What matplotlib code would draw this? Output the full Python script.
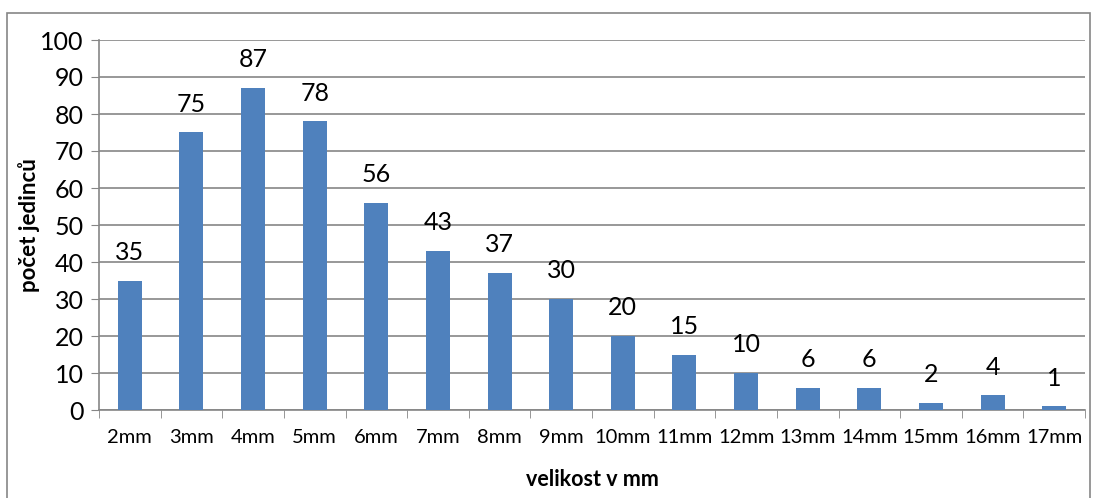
import matplotlib
matplotlib.use("Agg")
import matplotlib.pyplot as plt
from matplotlib.patches import Rectangle
import numpy as np

plt.rcParams['font.family'] = ['Lato', 'DejaVu Sans']

categories = ['2mm', '3mm', '4mm', '5mm', '6mm', '7mm', '8mm', '9mm',
              '10mm', '11mm', '12mm', '13mm', '14mm', '15mm', '16mm', '17mm']
counts = [35, 75, 87, 78, 56, 43, 37, 30, 20, 15, 10, 6, 6, 2, 4, 1]

fig = plt.figure(figsize=(10.96, 4.98), dpi=100)
ax = fig.add_axes([99/1096, 1 - 410/498, (1085-99)/1096, 370/498])

x = np.arange(len(categories))
ax.bar(x, counts, width=0.39, color='#4F81BD', zorder=3)
for xi, v in zip(x, counts):
    ax.annotate(str(v), (xi, v), xytext=(0, 12), textcoords='offset points',
                ha='center', va='bottom', fontsize=18, zorder=4)

ax.set_xlim(-0.5, len(categories) - 0.5)
ax.set_ylim(0, 100)
ax.set_yticks(range(0, 101, 10))
ax.tick_params(axis='y', labelsize=18, length=6, color='#868686', pad=5)
ax.yaxis.grid(True, color='#868686', linewidth=1.2, zorder=0)

ax.set_xticks(x)
ax.set_xticklabels(categories)
ax.tick_params(axis='x', length=0, labelsize=14.5, pad=14)
ax.set_xticks(np.arange(-0.5, len(categories)), minor=True)
ax.tick_params(axis='x', which='minor', length=6, color='#868686')

for s in ['top', 'right']:
    ax.spines[s].set_visible(False)
for s in ['left', 'bottom']:
    ax.spines[s].set_color('#868686')
    ax.spines[s].set_linewidth(1.2)

ax.set_ylabel('počet jedinců', fontsize=16, fontweight='bold', labelpad=0)
ax.set_xlabel('velikost v mm', fontsize=15.5, fontweight='bold', labelpad=16)

fig.patches.append(Rectangle((7/1096, -0.05), (1090-7)/1096, 1 - 13/498 + 0.05,
                             transform=fig.transFigure, fill=False,
                             edgecolor='#868686', linewidth=1.2))

fig.savefig('out.png', dpi=100)
